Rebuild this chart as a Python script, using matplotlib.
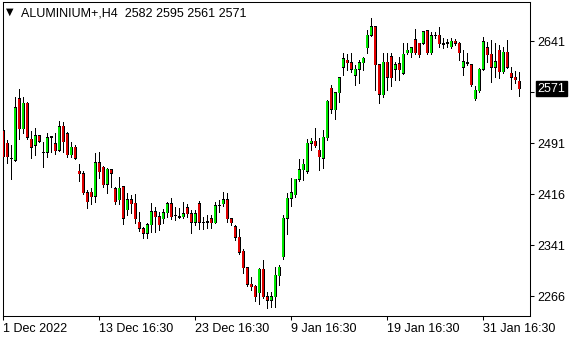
import matplotlib
matplotlib.use('Agg')
import matplotlib.pyplot as plt
import matplotlib.transforms as mtransforms

# H4 bars (prices)
open_ = [2509, 2491, 2469, 2466, 2556, 2512, 2550, 2497, 2488, 2502,
         2478, 2478, 2500, 2490, 2481, 2516, 2505, 2474, 2485, 2450,
         2446, 2418, 2419, 2413, 2462, 2456, 2431, 2452, 2424, 2408,
         2427, 2393, 2408, 2403, 2375, 2365, 2359, 2371, 2390, 2383,
         2380, 2389, 2402, 2384, 2383, 2383, 2396, 2387, 2375, 2402,
         2375, 2375, 2380, 2374, 2399, 2402, 2408, 2380, 2368, 2353,
         2332, 2308, 2284, 2281, 2271, 2306, 2265, 2260, 2265, 2296,
         2324, 2381, 2410, 2415, 2438, 2452, 2450, 2491, 2494, 2481,
         2469, 2499, 2572, 2540, 2565, 2603, 2613, 2609, 2591, 2600,
         2609, 2631, 2650, 2662, 2606, 2562, 2610, 2618, 2600, 2608,
         2594, 2624, 2624, 2643, 2638, 2638, 2656, 2624, 2650, 2650,
         2637, 2638, 2633, 2641, 2638, 2603, 2609, 2606, 2556, 2568,
         2600, 2631, 2622, 2603, 2628, 2596, 2625, 2594, 2588, 2582]
high = [2516, 2496, 2488, 2559, 2571, 2559, 2551, 2509, 2513, 2503,
        2493, 2506, 2502, 2506, 2524, 2522, 2508, 2493, 2488, 2461,
        2450, 2422, 2425, 2477, 2478, 2458, 2454, 2453, 2427, 2441,
        2428, 2418, 2415, 2416, 2390, 2368, 2374, 2403, 2397, 2390,
        2394, 2405, 2411, 2397, 2396, 2405, 2401, 2393, 2393, 2406,
        2383, 2386, 2386, 2405, 2408, 2419, 2418, 2381, 2371, 2365,
        2335, 2309, 2294, 2283, 2307, 2319, 2272, 2272, 2309, 2312,
        2386, 2418, 2440, 2439, 2468, 2468, 2497, 2499, 2513, 2499,
        2510, 2555, 2577, 2566, 2588, 2624, 2622, 2624, 2606, 2613,
        2618, 2658, 2675, 2663, 2607, 2624, 2624, 2624, 2611, 2618,
        2638, 2638, 2632, 2659, 2639, 2656, 2657, 2655, 2655, 2662,
        2646, 2644, 2646, 2644, 2640, 2628, 2624, 2607, 2575, 2601,
        2647, 2640, 2643, 2638, 2636, 2633, 2643, 2603, 2597, 2595]
low = [2469, 2462, 2438, 2465, 2497, 2506, 2497, 2469, 2474, 2493,
       2456, 2471, 2478, 2475, 2480, 2478, 2471, 2471, 2468, 2436,
       2416, 2396, 2401, 2405, 2440, 2427, 2418, 2427, 2401, 2402,
       2372, 2386, 2389, 2374, 2362, 2352, 2352, 2361, 2361, 2363,
       2374, 2383, 2380, 2378, 2381, 2381, 2383, 2359, 2371, 2365,
       2365, 2366, 2366, 2373, 2390, 2399, 2375, 2371, 2349, 2328,
       2300, 2281, 2275, 2259, 2255, 2263, 2249, 2250, 2250, 2283,
       2321, 2358, 2399, 2412, 2435, 2437, 2447, 2481, 2486, 2452,
       2455, 2496, 2536, 2527, 2552, 2591, 2599, 2596, 2577, 2580,
       2599, 2624, 2649, 2569, 2550, 2559, 2569, 2575, 2584, 2584,
       2593, 2622, 2618, 2622, 2618, 2637, 2622, 2622, 2646, 2633,
       2631, 2633, 2631, 2636, 2613, 2591, 2606, 2575, 2555, 2566,
       2599, 2611, 2581, 2588, 2587, 2594, 2602, 2571, 2580, 2561]
close = [2471, 2471, 2468, 2543, 2512, 2550, 2500, 2485, 2502, 2494,
         2477, 2499, 2501, 2480, 2515, 2493, 2474, 2485, 2469, 2446,
         2418, 2405, 2412, 2462, 2449, 2430, 2453, 2447, 2405, 2425,
         2381, 2408, 2402, 2380, 2366, 2359, 2371, 2390, 2383, 2371,
         2389, 2402, 2383, 2385, 2382, 2387, 2387, 2375, 2387, 2375,
         2374, 2376, 2374, 2399, 2400, 2408, 2380, 2374, 2353, 2331,
         2308, 2284, 2280, 2265, 2306, 2265, 2260, 2265, 2297, 2309,
         2381, 2410, 2418, 2438, 2452, 2460, 2491, 2494, 2487, 2471,
         2500, 2553, 2541, 2565, 2587, 2615, 2609, 2600, 2600, 2609,
         2616, 2650, 2662, 2606, 2563, 2610, 2588, 2587, 2606, 2599,
         2622, 2628, 2631, 2624, 2621, 2655, 2624, 2649, 2649, 2637,
         2636, 2639, 2641, 2638, 2624, 2611, 2608, 2577, 2569, 2600,
         2640, 2621, 2603, 2611, 2596, 2625, 2603, 2588, 2584, 2571]

symbol = 'ALUMINIUM+,H4'
tick_bars = [0, 24, 48, 72, 96, 120]
tick_labels = ['1 Dec 2022', '13 Dec 16:30', '23 Dec 16:30',
               '9 Jan 16:30', '19 Jan 16:30', '31 Jan 16:30']
price_ticks = [2266, 2341, 2416, 2491, 2566, 2641]

BULL = '#00e800'
BEAR = '#e00000'
FONT = 'Liberation Sans'

W, H = 580, 340
YMIN, YMAX = 2237, 2699
ax_h = 316 - 1.7
fig = plt.figure(figsize=(W / 100, H / 100), dpi=100)
ax = fig.add_axes([2.7 / W, 1 - 316 / H, (530 - 2.7) / W, ax_h / H])

px = (YMAX - YMIN) / ax_h  # one pixel in price units

n = len(close)
xs = list(range(n))
ax.vlines(xs, low, high, color='black', linewidth=0.72, zorder=2,
          antialiased=False)

bottoms = [min(o, c) for o, c in zip(open_, close)]
heights = [abs(c - o) for o, c in zip(open_, close)]
colors = [BULL if c >= o else BEAR for o, c in zip(open_, close)]

# black outline block, then the coloured inside
ax.bar(xs, [h + px for h in heights], bottom=[b - px / 2 for b in bottoms],
       width=0.75, color='black', linewidth=0, zorder=3, antialiased=False)
inner = [i for i in xs if heights[i] > px]
fills = ax.bar(inner, [heights[i] - px for i in inner],
               bottom=[bottoms[i] + px / 2 for i in inner], width=0.3,
               color=[colors[i] for i in inner], linewidth=0, zorder=4,
               antialiased=False)
for r in fills:
    r.set_snap(False)

ax.set_xlim(-0.15, 131.7)
ax.set_ylim(YMIN, YMAX)

ax.yaxis.tick_right()
ax.set_yticks(price_ticks)
ax.set_yticklabels([str(p) for p in price_ticks])
ax.set_xticks(tick_bars)
ax.set_xticklabels(tick_labels, ha='left')
ax.tick_params(axis='both', length=3, width=0.75, color='black',
               labelsize=9, labelcolor='black')
ax.tick_params(axis='y', pad=2.5)
ax.tick_params(axis='x', pad=2)
for lab in ax.get_xticklabels() + ax.get_yticklabels():
    lab.set_family(FONT)
for sp in ax.spines.values():
    sp.set_linewidth(0.75)
    sp.set_color('black')

# current price box on the right scale (covers the 2566 label, as in MT4)
trans = mtransforms.blended_transform_factory(ax.transAxes, ax.transData)
ax.text(1 + 7.5 / 527.3, close[-1], str(close[-1]), transform=trans,
        ha='left', va='center', color='white', fontsize=9, family=FONT,
        clip_on=False, zorder=6,
        bbox=dict(boxstyle='square,pad=0.12', fc='black', ec='black'))

# header
fig.text(5.5 / W, 1 - 12 / H, '\u25bc', fontsize=7, family='DejaVu Sans',
         va='center', ha='left', color='black')
header = '%s  %d %d %d %d' % (symbol, open_[-1], high[-1], low[-1], close[-1])
fig.text(21 / W, 1 - 13 / H, header, fontsize=9, family=FONT,
         va='center', ha='left', color='black')

fig.savefig('out.png', dpi=100, facecolor='white')
